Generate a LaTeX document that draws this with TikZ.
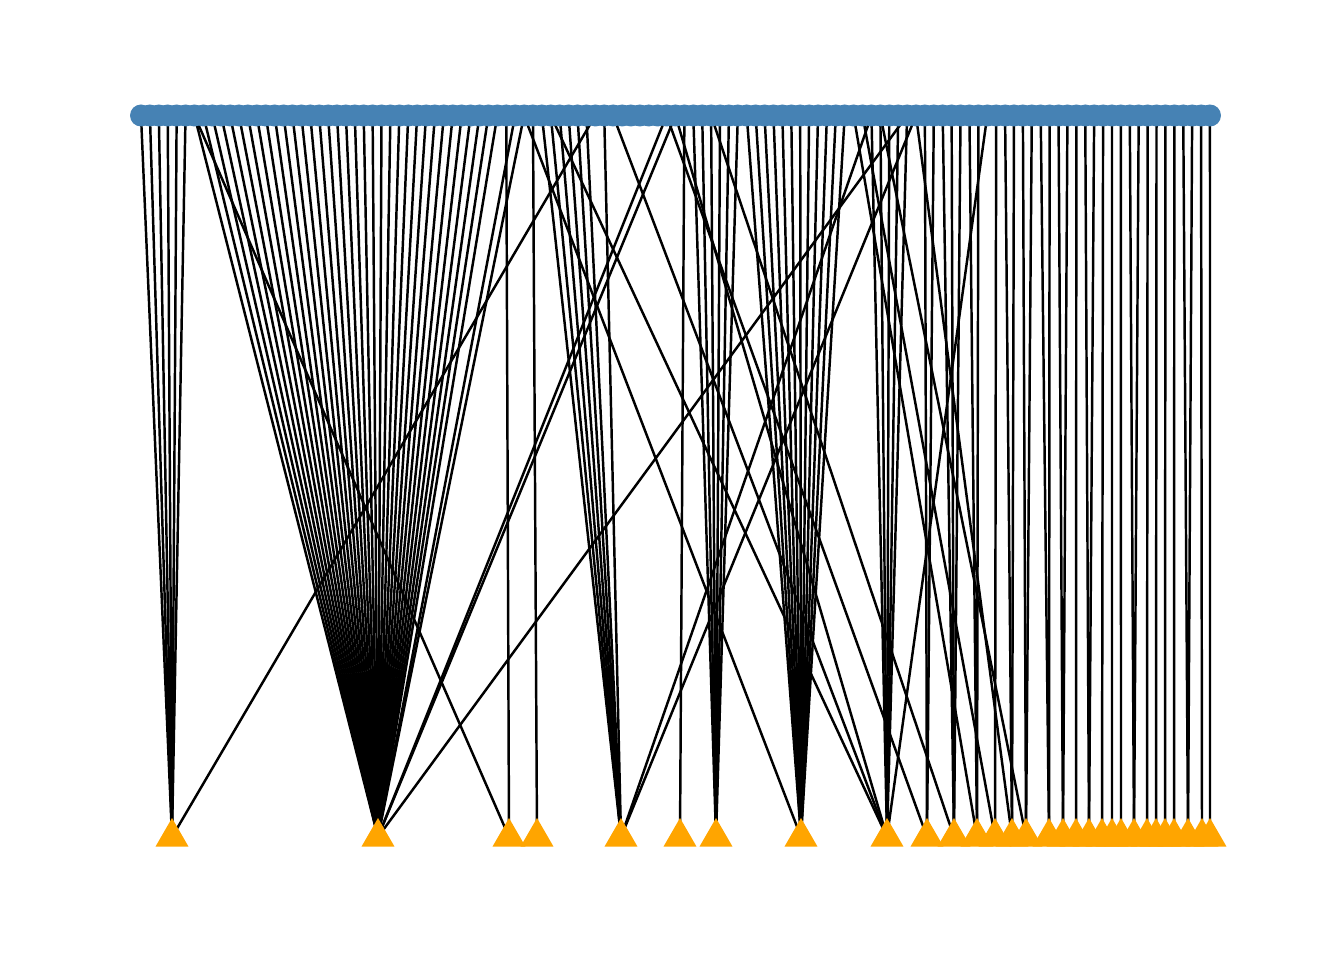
\documentclass[tikz,border=0pt]{standalone}
\usetikzlibrary{shapes.geometric}
\definecolor{topblue}{HTML}{4682B4}
\definecolor{botorange}{HTML}{FFA500}
\pgfdeclarelayer{edges}
\pgfsetlayers{edges,main}

\begin{document}
\begin{tikzpicture}[
  x=0.2mm, y=-0.2mm,
  topnode/.style={circle,fill=topblue,minimum size=4.4mm,inner sep=0pt},
  botnode/.style={regular polygon,regular polygon sides=3,fill=botorange,minimum size=7.6mm,inner sep=0pt},
  link/.style={line width=1.4pt,black}
]
  \useasboundingbox (0,0) rectangle (1344,960);

  % upper row
  \foreach \i in {0,...,120}
    \node[topnode] (t\i) at ({141+8.908*\i},115.5) {};

  % lower row
  \foreach \x [count=\k] in {172,378,509,537,621,680,716,801,887,927,954,977,995,1012,1026,1049,1063,1076,1089,1102,1112,1121,1134,1147,1156,1165,1174,1188,1202,1210}
    \node[botnode] (b\k) at (\x,837) {};

  \begin{pgfonlayer}{edges}
    \foreach \i in {0,...,5,51} \draw[link] (t\i.center) -- (b1.center);
    \foreach \i in {6,...,40,42,43,59,60,86} \draw[link] (t\i.center) -- (b2.center);
    \foreach \i in {6,41} \draw[link] (t\i.center) -- (b3.center);
    \draw[link] (t44.center) -- (b4.center);
    \foreach \i in {45,...,50,52,...,58,82,87} \draw[link] (t\i.center) -- (b5.center);
    \draw[link] (t61.center) -- (b6.center);
    \foreach \i in {62,...,67} \draw[link] (t\i.center) -- (b7.center);
    \foreach \i in {43,68,69,...,79} \draw[link] (t\i.center) -- (b8.center);
    \foreach \i in {46,53,60,82,83,84,85,86,95} \draw[link] (t\i.center) -- (b9.center);
    \foreach \i in {59,88,89} \draw[link] (t\i.center) -- (b10.center);
    \foreach \i in {64,90,91,92} \draw[link] (t\i.center) -- (b11.center);
    \foreach \i in {80,93,94} \draw[link] (t\i.center) -- (b12.center);
    \foreach \i in {81,96} \draw[link] (t\i.center) -- (b13.center);
    \foreach \i in {87,97,98} \draw[link] (t\i.center) -- (b14.center);
    \foreach \i in {83,99,100} \draw[link] (t\i.center) -- (b15.center);
    \foreach \i/\k in {101/16,102/16,103/17,104/17,105/18,106/19,107/19,108/20,109/21,110/22,
                       111/23,112/23,113/24,114/25,115/26,116/27,117/28,118/28,119/29,120/30}
      \draw[link] (t\i.center) -- (b\k.center);
  \end{pgfonlayer}
\end{tikzpicture}
\end{document}
